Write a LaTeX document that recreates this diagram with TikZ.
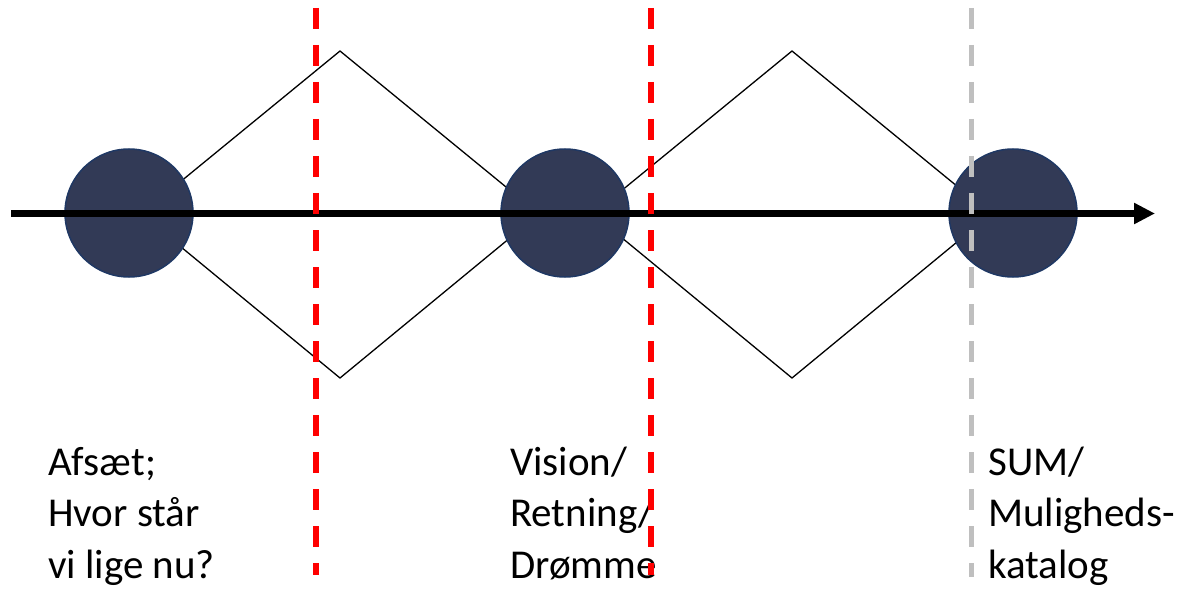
\documentclass[tikz,border=0pt]{standalone}
\usepackage{fontspec}
\setmainfont{Carlito}
\usetikzlibrary{arrows.meta}
\definecolor{dotfill}{HTML}{323A56}
\definecolor{dotedge}{HTML}{1F3864}
\definecolor{redline}{HTML}{FF0000}
\definecolor{grayline}{HTML}{BFBFBF}
\tikzset{
  dot/.style={circle, fill=dotfill, draw=dotedge, line width=1.5pt, minimum size=128pt, inner sep=0pt},
  diamondline/.style={draw=black, line width=1.3pt},
  mainarrow/.style={draw=black, line width=7pt, -{Triangle[length=21pt,width=20pt]}},
  reddash/.style={draw=redline, line width=5.5pt, dash pattern=on 21pt off 16pt},
  graydash/.style={draw=grayline, line width=5pt, dash pattern=on 21pt off 16pt},
  label/.style={anchor=base west, align=left, inner sep=0pt, font=\fontsize{41}{51.5}\selectfont}
}
\begin{document}
\begin{tikzpicture}[x=1pt,y=-1pt]
\useasboundingbox (0,0) rectangle (1180,596);
% diamonds
\coordinate (d1l) at (141,214);
\coordinate (d1t) at (340,51);
\coordinate (d1r) at (539,214);
\coordinate (d1b) at (340,378);
\coordinate (d2l) at (593,214);
\coordinate (d2t) at (792,51);
\coordinate (d2r) at (991,214);
\coordinate (d2b) at (792,378);
\draw[diamondline] (d1l) -- (d1t) -- (d1r) -- (d1b) -- cycle;
\draw[diamondline] (d2l) -- (d2t) -- (d2r) -- (d2b) -- cycle;
% circles
\node[dot] (c1) at (129,213) {};
\node[dot] (c2) at (565,213) {};
\node[dot] (c3) at (1013,213) {};
% arrow
\coordinate (as) at (11,213.5);
\coordinate (ae) at (1155,213.5);
\draw[mainarrow] (as) -- (ae);
% labels (anchored at the baseline of the last line)
\node[label] (t1) at (48,578) {Afsæt;\\Hvor står\\vi lige nu?};
\node[label] (t2) at (510,578) {Vision/\\Retning/\\Drømme};
\node[label] (t3) at (988,578) {SUM/\\Muligheds-\\katalog};
% dashed lines
\coordinate (r1t) at (316,8);
\coordinate (r1b) at (316,575);
\coordinate (r2t) at (651,8);
\coordinate (r2b) at (651,575);
\coordinate (g1t) at (971,8);
\coordinate (g1b) at (971,577);
\draw[reddash] (r1t) -- (r1b);
\draw[reddash] (r2t) -- (r2b);
\draw[graydash] (g1t) -- (g1b);
\end{tikzpicture}
\end{document}
